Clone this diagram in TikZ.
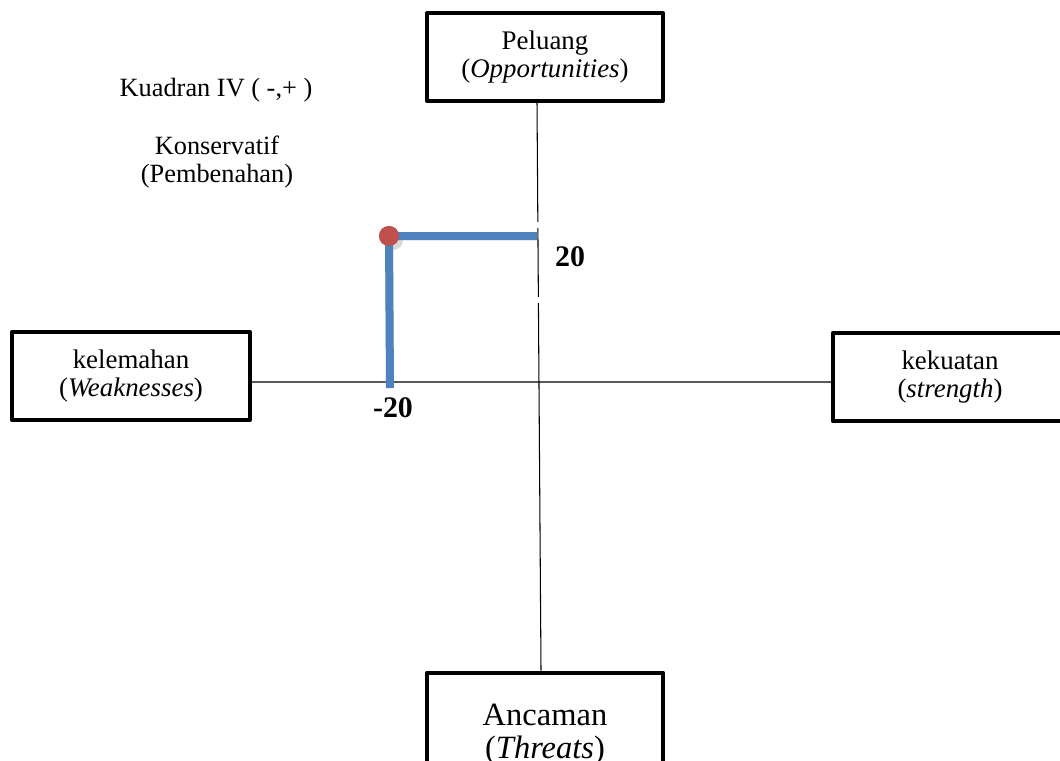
\documentclass[tikz,border=0pt]{standalone}
\usepackage{fontspec}
\setmainfont{Liberation Serif}
\usepackage{tikz}
\usetikzlibrary{shadows}

\definecolor{barblue}{RGB}{79,129,189}
\definecolor{dotred}{RGB}{192,80,77}

\begin{document}
\begin{tikzpicture}[x=0.02cm,y=-0.02cm,
  factor/.style={draw,line width=0.08cm,line join=round,align=center,
    minimum width=4.72cm,minimum height=1.76cm,inner sep=0pt,
    font=\fontsize{15.3}{15.6}\selectfont},
  axisline/.style={black,line width=0.6pt},
  bar/.style={barblue,line width=0.16cm},
  barshade/.style={black!18,line width=0.16cm,xshift=0.02cm,yshift=-0.04cm},
  val/.style={font=\fontsize{17}{17}\selectfont\bfseries}]
  \useasboundingbox (0,0) rectangle (1060,760);
  \begin{scope}
  \clip (0,0) rectangle (1060,760);

  %boxes
  \node[factor] (peluang) at (545,57) {Peluang\\(\textit{Opportunities})};
  \node[factor,minimum width=4.76cm] (kelemahan) at (131,376) {kelemahan\\(\textit{Weaknesses})};
  \node[factor,minimum width=4.68cm,minimum height=1.78cm] (kekuatan) at (950,377) {kekuatan\\(\textit{strength})};
  \node[factor,minimum height=2.5cm,font=\fontsize{18.5}{18.8}\selectfont] (ancaman) at (545,735) {Ancaman\\(\textit{Threats})};

  %axes
  \draw[axisline] ([xshift=-0.16cm]peluang.south) -- ([xshift=-0.08cm]ancaman.north);
  \draw[axisline] ([yshift=-0.12cm]kelemahan.east) -- ([yshift=-0.1cm]kekuatan.west);
  \draw[white,line width=0.1cm] (538,222) -- (538,228);
  \draw[white,line width=0.1cm] (539.5,297) -- (539.5,303);

  %quadrant text
  \node[font=\fontsize{15}{15}\selectfont] (kuadran) at (216,90) {Kuadran IV ( -,+ )};
  \node[align=center,font=\fontsize{15}{16.4}\selectfont] (strategi) at (217,162) {Konservatif\\(Pembenahan)};

  %position
  \coordinate (wpos) at (390,388);
  \coordinate (opos) at (537,236);
  \node[circle,fill=dotred,inner sep=0pt,minimum size=0.4cm,drop shadow={opacity=0.3}] (posisi) at (389,236) {};
  \draw[barshade] (wpos) -- (posisi.center) -- (opos);
  \draw[bar] (wpos) -- (posisi.center) -- (opos);
  \node[circle,fill=dotred,inner sep=0pt,minimum size=0.4cm] at (posisi) {};

  %values
  \node[val] (nilaio) at (570,257) {20};
  \node[val] (nilaiw) at (393,408) {-20};
  \end{scope}
\end{tikzpicture}
\end{document}
